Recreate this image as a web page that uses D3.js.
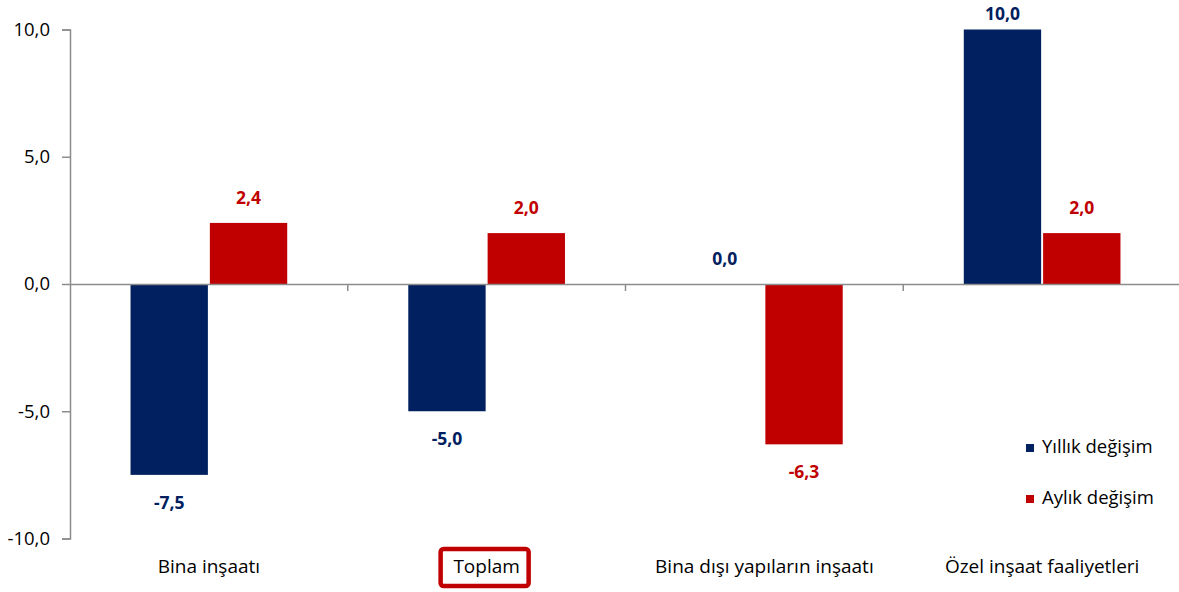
<!DOCTYPE html>
<html>
<head>
<meta charset="utf-8">
<script src="https://cdn.jsdelivr.net/npm/d3@7"></script>
<style>
  html, body { margin: 0; padding: 0; background: #fff; }
  svg { display: block; font-family: "Open Sans", Lato, sans-serif; }
</style>
</head>
<body>
<svg id="chart"></svg>
<script>
const categories = ["Bina inşaatı", "Toplam", "Bina dışı yapıların inşaatı", "Özel inşaat faaliyetleri"];
const seriesNames = ["Yıllık değişim", "Aylık değişim"];
const yillik = [-7.5, -5.0, 0.0, 10.0];
const aylik = [2.4, 2.0, -6.3, 2.0];
const yTicks = [-10, -5, 0, 5, 10];
const highlighted = "Toplam";

const colors = { "Yıllık değişim": "#002060", "Aylık değişim": "#C00000" };

const width = 1179;
const height = 592;
const margin = { top: 29.5, right: -2, bottom: 53.5, left: 70 };

// comma decimal, plain hyphen for minus
const fmt = v => d3.format(".1f")(v).replace(".", ",").replace("−", "-");

const svg = d3.select("#chart").attr("width", width).attr("height", height);

const data = categories.map((c, i) => ({
  category: c,
  values: [
    { series: seriesNames[0], value: yillik[i] },
    { series: seriesNames[1], value: aylik[i] }
  ]
}));

const x0 = d3.scaleBand()
  .domain(categories)
  .range([margin.left, width - margin.right])
  .padding(0);

const x1 = d3.scaleBand()
  .domain(seriesNames)
  .range([0, x0.bandwidth()])
  .paddingInner(0.025)
  .paddingOuter(0.763);

const y = d3.scaleLinear()
  .domain([-10, 10])
  .range([height - margin.bottom, margin.top]);

// y axis
const yAxis = svg.append("g")
  .attr("transform", `translate(${margin.left},0)`)
  .call(d3.axisLeft(y)
    .tickValues(yTicks)
    .tickSize(8)
    .tickPadding(12)
    .tickFormat(fmt));
yAxis.select(".domain").attr("stroke", "#8c8c8c").attr("stroke-width", 1.5);
yAxis.selectAll(".tick line").attr("stroke", "#8c8c8c").attr("stroke-width", 1.5);
yAxis.selectAll(".tick text")
  .attr("fill", "#000")
  .style("font-size", "18.5px")
  .style("font-family", "'Open Sans', Lato, sans-serif");

// bars
const groups = svg.append("g")
  .selectAll("g")
  .data(data)
  .join("g")
  .attr("transform", d => `translate(${x0(d.category)},0)`);

groups.selectAll("rect")
  .data(d => d.values)
  .join("rect")
  .attr("x", d => x1(d.series))
  .attr("y", d => y(Math.max(0, d.value)))
  .attr("width", x1.bandwidth())
  .attr("height", d => Math.abs(y(d.value) - y(0)))
  .attr("fill", d => colors[d.series]);

// value labels (kept inside the top edge)
groups.selectAll("text.val")
  .data(d => d.values)
  .join("text")
  .attr("class", "val")
  .attr("x", d => x1(d.series) + x1.bandwidth() / 2)
  .attr("y", d => d.value >= 0 ? Math.max(y(d.value) - 19, 20) : y(d.value) + 34)
  .attr("text-anchor", "middle")
  .attr("font-weight", "bold")
  .attr("font-size", "17.5px")
  .attr("fill", d => colors[d.series])
  .text(d => fmt(d.value));

// x axis on zero line
const xAxis = svg.append("g")
  .attr("transform", `translate(0,${y(0)})`)
  .call(d3.axisBottom(x0).tickSize(0).tickFormat(""));
xAxis.select(".domain").attr("stroke", "#8c8c8c").attr("stroke-width", 1.5);

// category separators (ticks between groups)
svg.append("g")
  .selectAll("line")
  .data(categories.slice(1))
  .join("line")
  .attr("x1", d => x0(d))
  .attr("x2", d => x0(d))
  .attr("y1", y(0))
  .attr("y2", y(0) + 7)
  .attr("stroke", "#8c8c8c")
  .attr("stroke-width", 1.5);

// category labels at the bottom
svg.append("g")
  .selectAll("text")
  .data(categories)
  .join("text")
  .attr("x", d => x0(d) + x0.bandwidth() / 2)
  .attr("y", 573)
  .attr("text-anchor", "middle")
  .attr("font-size", "19px")
  .attr("fill", "#000")
  .text(d => d);

// highlight box round "Toplam"
const hx = x0(highlighted) + x0.bandwidth() / 2;
svg.append("rect")
  .attr("x", hx - 46)
  .attr("y", 549)
  .attr("width", 88)
  .attr("height", 37)
  .attr("rx", 3)
  .attr("fill", "none")
  .attr("stroke", "#C00000")
  .attr("stroke-width", 4.5);

// legend
const legend = svg.append("g")
  .attr("transform", "translate(1026,443)")
  .selectAll("g")
  .data(seriesNames)
  .join("g")
  .attr("transform", (d, i) => `translate(0,${i * 51})`);

legend.append("rect")
  .attr("width", 8)
  .attr("height", 8)
  .attr("y", 1)
  .attr("fill", d => colors[d]);

legend.append("text")
  .attr("x", 16)
  .attr("y", 10)
  .attr("font-size", "18.5px")
  .attr("fill", "#000")
  .text(d => d);
</script>
</body>
</html>
